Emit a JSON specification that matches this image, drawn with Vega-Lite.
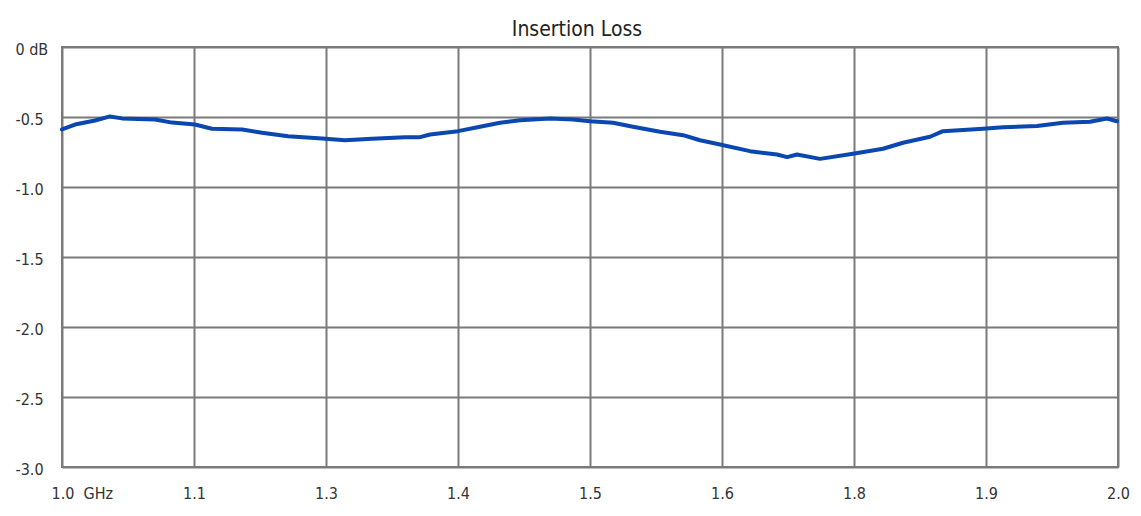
{
  "$schema": "https://vega.github.io/schema/vega-lite/v6.json",
  "autosize": {"type": "none"},
  "width": 1056,
  "height": 420,
  "padding": {"left": 62, "top": 47, "right": 23, "bottom": 49},
  "background": "white",
  "config": {
    "view": {"stroke": "#7a7a7a", "strokeWidth": 2},
    "font": "DejaVu Sans Condensed, DejaVu Sans"
  },
  "title": {
    "text": "Insertion Loss",
    "fontSize": 21,
    "fontWeight": "normal",
    "color": "#222222",
    "font": "DejaVu Sans Condensed, DejaVu Sans",
    "offset": 1,
    "dx": -13
  },
  "data": {
    "values": [
      {"freq": 1.0, "loss": -0.589},
      {"freq": 1.0123, "loss": -0.554},
      {"freq": 1.0313, "loss": -0.525},
      {"freq": 1.0455, "loss": -0.496},
      {"freq": 1.0568, "loss": -0.51},
      {"freq": 1.0881, "loss": -0.518},
      {"freq": 1.1042, "loss": -0.54},
      {"freq": 1.1259, "loss": -0.554},
      {"freq": 1.142, "loss": -0.584},
      {"freq": 1.1705, "loss": -0.589},
      {"freq": 1.1894, "loss": -0.613},
      {"freq": 1.214, "loss": -0.637},
      {"freq": 1.2462, "loss": -0.654},
      {"freq": 1.268, "loss": -0.666},
      {"freq": 1.2936, "loss": -0.656},
      {"freq": 1.3248, "loss": -0.644},
      {"freq": 1.339, "loss": -0.644},
      {"freq": 1.3485, "loss": -0.625},
      {"freq": 1.375, "loss": -0.601},
      {"freq": 1.3958, "loss": -0.57},
      {"freq": 1.4148, "loss": -0.541},
      {"freq": 1.4337, "loss": -0.523},
      {"freq": 1.4621, "loss": -0.511},
      {"freq": 1.4839, "loss": -0.518},
      {"freq": 1.5, "loss": -0.53},
      {"freq": 1.5218, "loss": -0.541},
      {"freq": 1.5407, "loss": -0.57},
      {"freq": 1.5663, "loss": -0.606},
      {"freq": 1.5881, "loss": -0.63},
      {"freq": 1.6042, "loss": -0.666},
      {"freq": 1.6231, "loss": -0.696},
      {"freq": 1.6515, "loss": -0.744},
      {"freq": 1.6771, "loss": -0.768},
      {"freq": 1.6866, "loss": -0.787},
      {"freq": 1.696, "loss": -0.768},
      {"freq": 1.7178, "loss": -0.799},
      {"freq": 1.7491, "loss": -0.763},
      {"freq": 1.7775, "loss": -0.727},
      {"freq": 1.7964, "loss": -0.684},
      {"freq": 1.822, "loss": -0.641},
      {"freq": 1.8343, "loss": -0.601},
      {"freq": 1.8722, "loss": -0.584},
      {"freq": 1.8911, "loss": -0.573},
      {"freq": 1.9233, "loss": -0.565},
      {"freq": 1.9479, "loss": -0.541},
      {"freq": 1.9735, "loss": -0.534},
      {"freq": 1.9896, "loss": -0.511},
      {"freq": 1.999, "loss": -0.53}
    ]
  },
  "mark": {"type": "line", "color": "#0a47b0", "strokeWidth": 4, "strokeJoin": "round", "strokeCap": "round"},
  "encoding": {
    "x": {
      "field": "freq",
      "type": "quantitative",
      "scale": {"domain": [1, 2], "nice": false, "zero": false},
      "axis": {
        "title": null,
        "domain": false,
        "ticks": false,
        "grid": true,
        "gridColor": "#7a7a7a",
        "gridWidth": 2,
        "gridOpacity": 1,
        "values": [1, 1.125, 1.25, 1.375, 1.5, 1.625, 1.75, 1.875, 2],
        "labelExpr": "datum.value == 1 ? '1.0\u00a0\u00a0GHz' : format(datum.value, '.1f')",
        "labelAlign": {"expr": "datum.value == 1 ? 'left' : 'center'"},
        "labelOffset": {"expr": "datum.value == 1 ? -11 : 0"},
        "labelFontSize": 16,
        "labelColor": "#333333",
        "labelPadding": 18,
        "labelOverlap": false,
        "labelFlush": false
      }
    },
    "y": {
      "field": "loss",
      "type": "quantitative",
      "scale": {"domain": [-3, 0], "nice": false},
      "axis": {
        "title": null,
        "domain": false,
        "ticks": false,
        "grid": true,
        "gridColor": "#7a7a7a",
        "gridWidth": 2,
        "gridOpacity": 1,
        "values": [0, -0.5, -1, -1.5, -2, -2.5, -3],
        "labelExpr": "datum.value == 0 ? '0 dB' : '-' + format(abs(datum.value), '.1f')",
        "labelAlign": "left",
        "labelPadding": 47,
        "labelOffset": 2,
        "labelFontSize": 16,
        "labelColor": "#333333",
        "labelOverlap": false,
        "labelFlush": false
      }
    }
  }
}
